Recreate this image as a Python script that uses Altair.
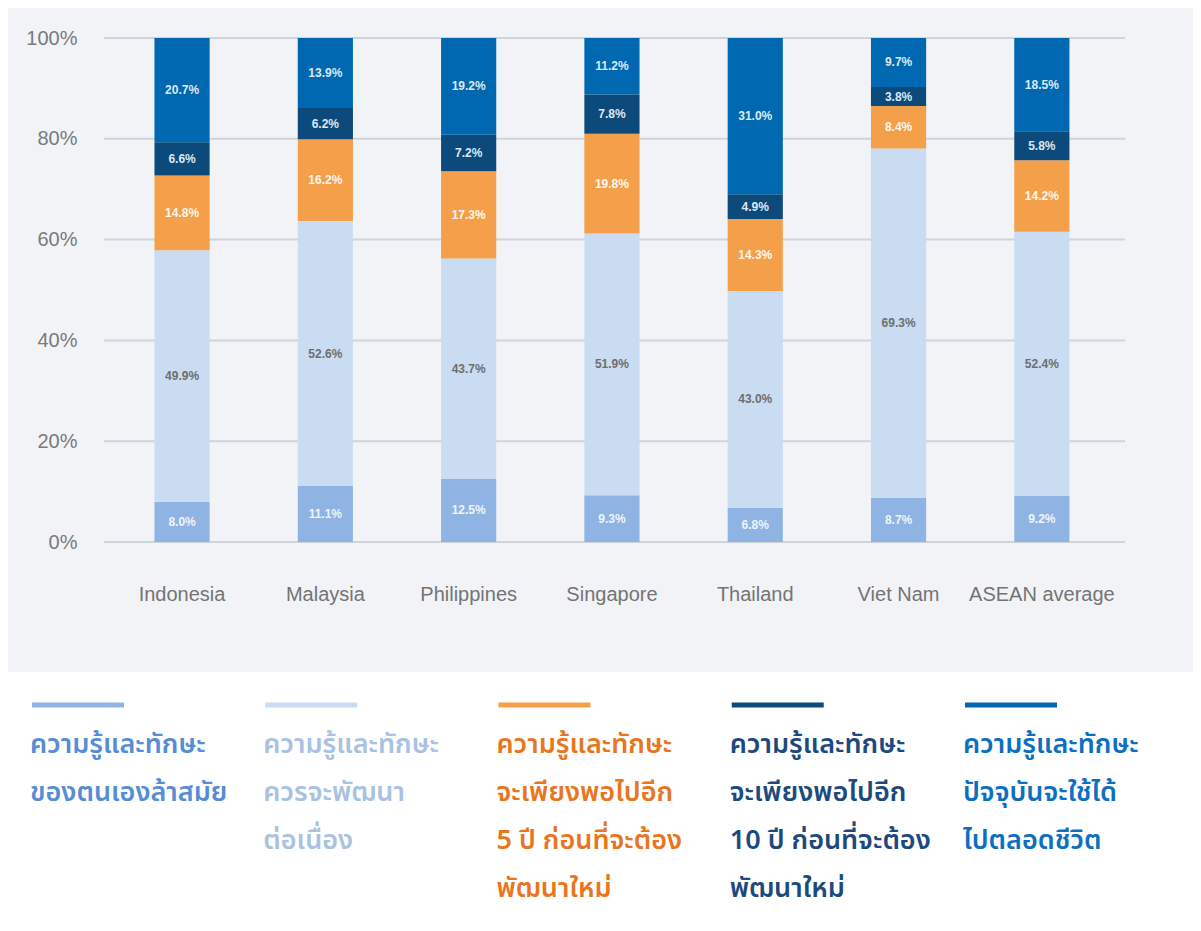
import altair as alt
import pandas as pd

countries = ["Indonesia", "Malaysia", "Philippines", "Singapore", "Thailand", "Viet Nam", "ASEAN average"]
series_keys = ["outdated", "continue", "five", "ten", "lifetime"]

outdated = [8.0, 11.1, 12.5, 9.3, 6.8, 8.7, 9.2]
continue_dev = [49.9, 52.6, 43.7, 51.9, 43.0, 69.3, 52.4]
five_years = [14.8, 16.2, 17.3, 19.8, 14.3, 8.4, 14.2]
ten_years = [6.6, 6.2, 7.2, 7.8, 4.9, 3.8, 5.8]
lifetime = [20.7, 13.9, 19.2, 11.2, 31.0, 9.7, 18.5]

y_ticks = [0, 0.2, 0.4, 0.6, 0.8, 1.0]

legend_labels = [
    "ความรู้และทักษะ\nของตนเองล้าสมัย",
    "ความรู้และทักษะ\nควรจะพัฒนา\nต่อเนื่อง",
    "ความรู้และทักษะ\nจะเพียงพอไปอีก\n5 ปี ก่อนที่จะต้อง\nพัฒนาใหม่",
    "ความรู้และทักษะ\nจะเพียงพอไปอีก\n10 ปี ก่อนที่จะต้อง\nพัฒนาใหม่",
    "ความรู้และทักษะ\nปัจจุบันจะใช้ได้\nไปตลอดชีวิต",
]

bar_colors = ["#8fb4e3", "#c9dcf2", "#f4a04a", "#0b4a7b", "#0068b0"]
legend_text_colors = ["#558dd6", "#a9c2e2", "#e8761f", "#1d4a7e", "#0d6fbf"]
value_label_colors = ["#eef3fa", "#6e6e6e", "#fff6ec", "#dce8f4", "#dce8f4"]

series_values = [outdated, continue_dev, five_years, ten_years, lifetime]

rows = []
for si, (key, vals) in enumerate(zip(series_keys, series_values)):
    for ci, c in enumerate(countries):
        rows.append({
            "country": c,
            "series": key,
            "order": si,
            "value": vals[ci],
            "label": f"{vals[ci]:.1f}%",
            "lcolor": value_label_colors[si],
        })
df = pd.DataFrame(rows)

axis_font = "Liberation Sans"

x_axis = alt.Axis(title=None, labelAngle=0, labelFontSize=20, labelColor="#747474",
                  labelFont=axis_font, labelPadding=42, ticks=False, tickSize=0,
                  domain=False, grid=False, zindex=2)
y_axis = alt.Axis(title=None, format=".0%", values=y_ticks,
                  grid=False, domain=False, ticks=False, tickSize=0, labelPadding=27,
                  labelFontSize=20, labelColor="#7a7a7a", labelFont=axis_font, zindex=2)
x_scale = alt.Scale(paddingInner=0.615, paddingOuter=0.37, align=0.476)
y_scale = alt.Scale(domain=[0, 1])

# grey panel behind the chart part (decorative background)
panel = alt.Chart(pd.DataFrame({"bg": [1]})).mark_rect(color="#f1f3f7").encode(
    x=alt.value(-96), x2=alt.value(1089), y=alt.value(-30), y2=alt.value(634)
)

grid = alt.Chart(pd.DataFrame({"tick": y_ticks})).mark_rule(
    color="#cfd4db", strokeWidth=2
).encode(
    y=alt.Y("tick:Q", scale=y_scale, axis=y_axis)
)

bars = alt.Chart(df).mark_bar().encode(
    x=alt.X("country:N", sort=countries, scale=x_scale, axis=x_axis),
    y=alt.Y("value:Q", stack="normalize", scale=y_scale, axis=y_axis),
    color=alt.Color("series:N", scale=alt.Scale(domain=series_keys, range=bar_colors), legend=None),
    order=alt.Order("order:Q"),
)

labels = alt.Chart(df).transform_stack(
    stack="value",
    groupby=["country"],
    sort=[alt.SortField("order")],
    as_=["y0", "y1"],
    offset="normalize",
).transform_calculate(
    mid="(datum.y0 + datum.y1) / 2"
).mark_text(fontSize=12, fontWeight="bold", font=axis_font, baseline="middle").encode(
    x=alt.X("country:N", sort=countries, scale=x_scale, axis=x_axis),
    y=alt.Y("mid:Q", scale=y_scale, axis=y_axis),
    text="label:N",
    color=alt.Color("lcolor:N", scale=None),
)

top = alt.layer(panel, grid, bars, labels).properties(width=1021, height=504)

leg_rows = []
for i, key in enumerate(series_keys):
    leg_rows.append({"key": key, "row": 0, "text": legend_labels[i],
                     "lc": bar_colors[i], "tc": legend_text_colors[i]})
leg_df = pd.DataFrame(leg_rows)

lx = alt.X("key:N", sort=series_keys,
           scale=alt.Scale(type="point", range=[-74, 859], padding=0), axis=None)
ly_scale = alt.Scale(domain=[-0.6875, 4.542], reverse=True)

leg_lines = alt.Chart(leg_df).mark_tick(size=92, thickness=5, xOffset=48, opacity=1).encode(
    x=lx,
    y=alt.Y("row:Q", scale=ly_scale, axis=None),
    color=alt.Color("lc:N", scale=None),
)

leg_text = alt.Chart(leg_df).transform_calculate(
    trow="datum.row + 1"
).mark_text(
    align="left", baseline="alphabetic", lineBreak="\n", lineHeight=48,
    fontSize=27, fontWeight=600, font="Noto Sans Thai, Noto Sans, sans-serif",
).encode(
    x=lx,
    y=alt.Y("trow:Q", scale=ly_scale, axis=None),
    text="text:N",
    color=alt.Color("tc:N", scale=None),
)

legend = alt.layer(leg_lines, leg_text).properties(width=1000, height=251)

chart = alt.vconcat(top, legend, spacing=0).properties(
    padding={"left": 0, "top": 0, "right": 0, "bottom": 0},
    background="#ffffff",
).configure_view(stroke=None)

chart.save("out.html", embed_options={"renderer": "svg", "actions": False})
